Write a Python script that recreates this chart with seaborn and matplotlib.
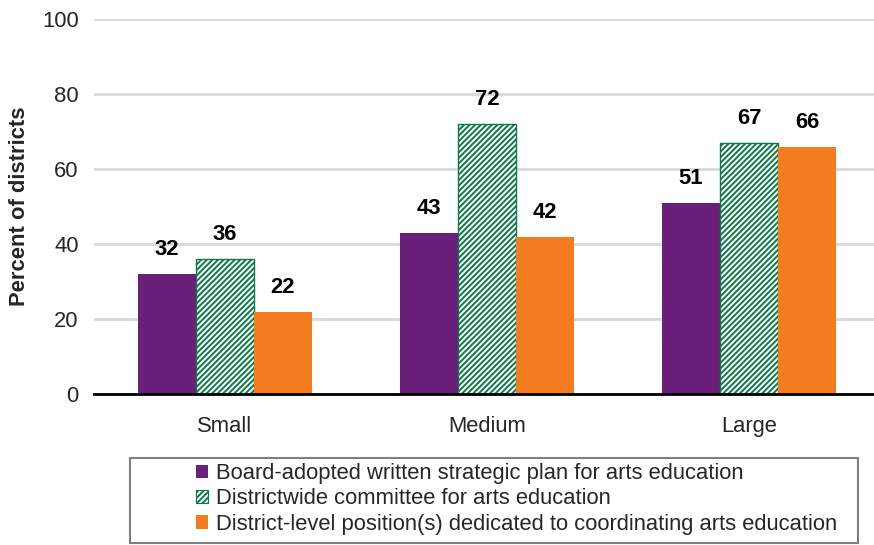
import matplotlib
matplotlib.use("Agg")
import matplotlib.pyplot as plt
import seaborn as sns
import pandas as pd
from matplotlib.patches import Patch, Rectangle

# District size categories and the three arts-education supports
sizes = ["Small", "Medium", "Large"]
series = [
    "Board-adopted written strategic plan for arts education",
    "Districtwide committee for arts education",
    "District-level position(s) dedicated to coordinating arts education",
]
plan_vals = [32, 43, 51]
committee_vals = [36, 72, 67]
position_vals = [22, 42, 66]

y_ticks = [0, 20, 40, 60, 80, 100]
y_label = "Percent of districts"

colors = ["#6A1F7B", "#FFFFFF", "#F47C20"]
hatch_green = "#0B7A45"
STRIPES = "//////"

df = pd.DataFrame({
    "size": sizes * 3,
    "support": [series[0]] * 3 + [series[1]] * 3 + [series[2]] * 3,
    "value": plan_vals + committee_vals + position_vals,
})

sns.set_theme(style="white")
plt.rcParams["font.family"] = ["Liberation Sans", "DejaVu Sans"]
plt.rcParams["hatch.linewidth"] = 1.4
plt.rcParams["hatch.color"] = hatch_green

FS = 15.8
fig = plt.figure(figsize=(8.74, 5.45), dpi=100)
W, H = 874, 545
ax = fig.add_axes([94 / W, (H - 394) / H, 786 / W, 375 / H])

sns.barplot(
    data=df, x="size", y="value", hue="support", order=sizes,
    hue_order=series, palette=colors, width=0.664, gap=0,
    saturation=1, legend=False, ax=ax, errorbar=None,
)

# Style the committee bars as green diagonal stripes
for cont, name in zip(ax.containers, series):
    for bar in cont:
        bar.set_linewidth(0)
        if name == series[1]:
            bar.set_hatch(STRIPES)
            bar.set_edgecolor(hatch_green)
            bar.set_linewidth(1.0)

# Value labels above every bar
for cont in ax.containers:
    labels = [f"{v:.0f}" for v in cont.datavalues]
    ax.bar_label(cont, labels=labels, padding=10, fontsize=FS,
                 fontweight="bold", color="black")

ax.set_ylim(0, 100)
ax.set_xlim(-0.5, 2.5)
ax.set_yticks(y_ticks)
ax.set_yticklabels([str(t) for t in y_ticks], fontsize=FS)
ax.tick_params(axis="y", length=0, pad=11)
ax.tick_params(axis="x", length=0, pad=16, labelsize=FS)
ax.set_xlabel("")
ax.set_ylabel(y_label, fontsize=FS, fontweight="bold")
ax.yaxis.set_label_coords(-0.081, 0.5)

ax.yaxis.grid(True, color="#D9D9D9", linewidth=2)
ax.set_axisbelow(True)
for side in ["top", "right", "left"]:
    ax.spines[side].set_visible(False)
ax.spines["bottom"].set_color("black")
ax.spines["bottom"].set_linewidth(2)

# Legend with a wide outlined box below the plot
handles = [
    Patch(facecolor=colors[0], edgecolor="none"),
    Patch(facecolor="white", edgecolor=hatch_green, hatch=STRIPES, linewidth=0.8),
    Patch(facecolor=colors[2], edgecolor="none"),
]
fig.legend(
    handles, series, loc="upper left",
    bbox_to_anchor=(196 / W, 1 - 463 / H), bbox_transform=fig.transFigure,
    frameon=False, fontsize=FS, borderpad=0, borderaxespad=0,
    handlelength=0.56, handleheight=0.56, handletextpad=0.35,
    labelspacing=0.2,
)
fig.patches.append(Rectangle(
    (130 / W, 2 / H), 728 / W, 85 / H, transform=fig.transFigure,
    fill=False, edgecolor="#7F7F7F", linewidth=1.5,
))

fig.savefig("out.png", dpi=100)
